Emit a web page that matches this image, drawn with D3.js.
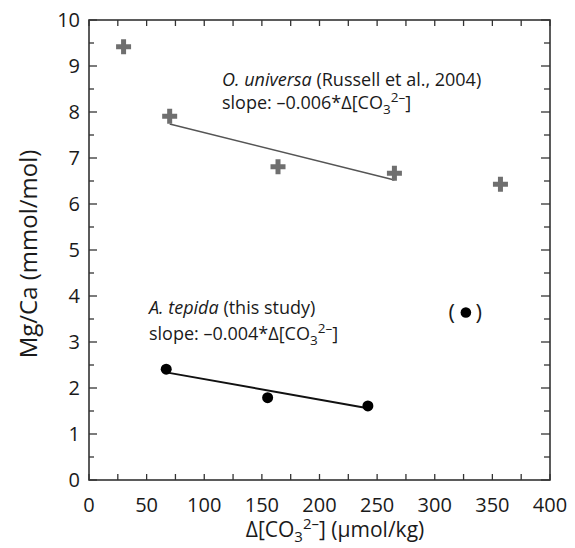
<!DOCTYPE html>
<meta charset="utf-8">
<head>
    <script type="text/javascript" src="https://d3js.org/d3.v7.min.js"></script>
    <style>
    body { margin: 0; background: #fff; }
    text { font-family: "Open Sans", sans-serif; fill: #1a1a1a; }
    </style>
    <title>Mg/Ca vs carbonate ion</title>
</head>
<body>
<div id="chart"></div>
<script>
    // data
    var universaX = [30, 70, 164, 265, 357];
    var universaY = [9.42, 7.91, 6.81, 6.67, 6.43];
    var universaFitX = [70, 265];
    var universaFitY = [7.74, 6.52];

    var tepidaX = [67, 155, 242];
    var tepidaY = [2.41, 1.79, 1.61];
    var tepidaFitX = [67, 242];
    var tepidaFitY = [2.34, 1.56];

    var outlierX = [327];
    var outlierY = [3.64];

    var xLabels = [0, 50, 100, 150, 200, 250, 300, 350, 400];
    var yLabels = [0, 1, 2, 3, 4, 5, 6, 7, 8, 9, 10];

    var margin = {top: 20, right: 25, bottom: 68, left: 89};
    var width = 575 - margin.left - margin.right;
    var height = 548 - margin.top - margin.bottom;

    var svg = d3.select("#chart").append("svg")
        .attr("width", 575)
        .attr("height", 548);
    var g = svg.append("g")
        .attr("transform", "translate(" + margin.left + "," + margin.top + ")");

    var x = d3.scaleLinear().domain([0, 400]).range([0, width]);
    var y = d3.scaleLinear().domain([0, 10]).range([height, 0]);

    var axisColor = "#333";
    var xTicks = d3.range(0, 401, 25);
    var yTicks = d3.range(0, 10.01, 0.5);

    // ticks, all pointing inward, on every side
    g.selectAll(".xt").data(xTicks).enter().append("line")
        .attr("x1", d => x(d)).attr("x2", d => x(d))
        .attr("y1", height).attr("y2", height - 6)
        .attr("stroke", axisColor).attr("stroke-width", 1.3);
    g.selectAll(".xtt").data(xTicks).enter().append("line")
        .attr("x1", d => x(d)).attr("x2", d => x(d))
        .attr("y1", 0).attr("y2", 6)
        .attr("stroke", axisColor).attr("stroke-width", 1.3);
    g.selectAll(".yt").data(yTicks).enter().append("line")
        .attr("x1", 0).attr("x2", d => (d % 1 === 0 ? 8 : 5))
        .attr("y1", d => y(d)).attr("y2", d => y(d))
        .attr("stroke", axisColor).attr("stroke-width", 1.3);
    g.selectAll(".ytr").data(yTicks).enter().append("line")
        .attr("x1", width).attr("x2", d => width - (d % 1 === 0 ? 9 : 6))
        .attr("y1", d => y(d)).attr("y2", d => y(d))
        .attr("stroke", axisColor).attr("stroke-width", 1.3);

    g.append("rect")
        .attr("width", width).attr("height", height)
        .attr("fill", "none").attr("stroke", axisColor).attr("stroke-width", 1.6);

    // tick labels
    g.selectAll(".xl").data(xLabels).enter().append("text")
        .attr("x", d => x(d)).attr("y", height + 32)
        .attr("text-anchor", "middle")
        .style("font-size", "20px")
        .text(d => d);
    g.selectAll(".yl").data(yLabels).enter().append("text")
        .attr("x", -9).attr("y", d => y(d))
        .attr("dy", "0.36em")
        .attr("text-anchor", "end")
        .style("font-size", "20px")
        .text(d => d);

    // axis titles
    var xt = g.append("text")
        .attr("x", 246).attr("y", height + 57)
        .attr("text-anchor", "middle")
        .style("font-size", "21px");
    xt.append("tspan").text("Δ[CO");
    xt.append("tspan").attr("dy", 5).style("font-size", "15px").text("3");
    xt.append("tspan").attr("dy", -13).style("font-size", "15px").text("2–");
    xt.append("tspan").attr("dy", 8).text("] (μmol/kg)");

    g.append("text")
        .attr("transform", "translate(-52," + (height / 2 + 4) + ") rotate(-90)")
        .attr("text-anchor", "middle")
        .style("font-size", "24px")
        .text("Mg/Ca (mmol/mol)");

    // regression lines
    var line = d3.line().x(d => x(d[0])).y(d => y(d[1]));
    g.append("path")
        .datum(d3.zip(universaFitX, universaFitY))
        .attr("d", line)
        .attr("fill", "none").attr("stroke", "#555").attr("stroke-width", 1.6);
    g.append("path")
        .datum(d3.zip(tepidaFitX, tepidaFitY))
        .attr("d", line)
        .attr("fill", "none").attr("stroke", "#111").attr("stroke-width", 2);

    // O. universa crosses
    var cross = d3.symbol().type(d3.symbolCross).size(125);
    g.selectAll(".cross").data(d3.zip(universaX, universaY)).enter().append("path")
        .attr("d", cross)
        .attr("transform", d => "translate(" + x(d[0]) + "," + y(d[1]) + ")")
        .attr("fill", "#6f6f6f");

    // A. tepida dots
    g.selectAll(".dot").data(d3.zip(tepidaX, tepidaY)).enter().append("circle")
        .attr("cx", d => x(d[0])).attr("cy", d => y(d[1]))
        .attr("r", 5.5).attr("fill", "#000");

    g.selectAll(".out").data(d3.zip(outlierX, outlierY)).enter().append("circle")
        .attr("cx", d => x(d[0])).attr("cy", d => y(d[1]))
        .attr("r", 5.3).attr("fill", "#000");
    var outPts = d3.zip(outlierX, outlierY);
    g.selectAll(".pl").data(outPts).enter().append("text")
        .attr("x", d => x(d[0]) - 14).attr("y", d => y(d[1]))
        .attr("dy", "0.34em").attr("text-anchor", "middle")
        .style("font-size", "22px")
        .text("(");
    g.selectAll(".pr").data(outPts).enter().append("text")
        .attr("x", d => x(d[0]) + 13).attr("y", d => y(d[1]))
        .attr("dy", "0.34em").attr("text-anchor", "middle")
        .style("font-size", "22px")
        .text(")");

    // annotations
    function slopeText(px, py, val) {
        var t = g.append("text").attr("x", px).attr("y", py).style("font-size", "18px");
        t.append("tspan").text("slope: –" + val + "*Δ[CO");
        t.append("tspan").attr("dy", 5).style("font-size", "13.5px").text("3");
        t.append("tspan").attr("dy", -12).style("font-size", "13.5px").text("2–");
        t.append("tspan").attr("dy", 7).text("]");
    }

    var a1 = g.append("text").attr("x", 133).attr("y", 66).style("font-size", "18px");
    a1.append("tspan").style("font-style", "italic").text("O. universa");
    a1.append("tspan").text(" (Russell et al., 2004)");
    slopeText(133, 89, "0.006");

    var a2 = g.append("text").attr("x", 60).attr("y", 294).style("font-size", "18px");
    a2.append("tspan").style("font-style", "italic").text("A. tepida");
    a2.append("tspan").text(" (this study)");
    slopeText(60, 320, "0.004");
</script>
</body>
</html>
